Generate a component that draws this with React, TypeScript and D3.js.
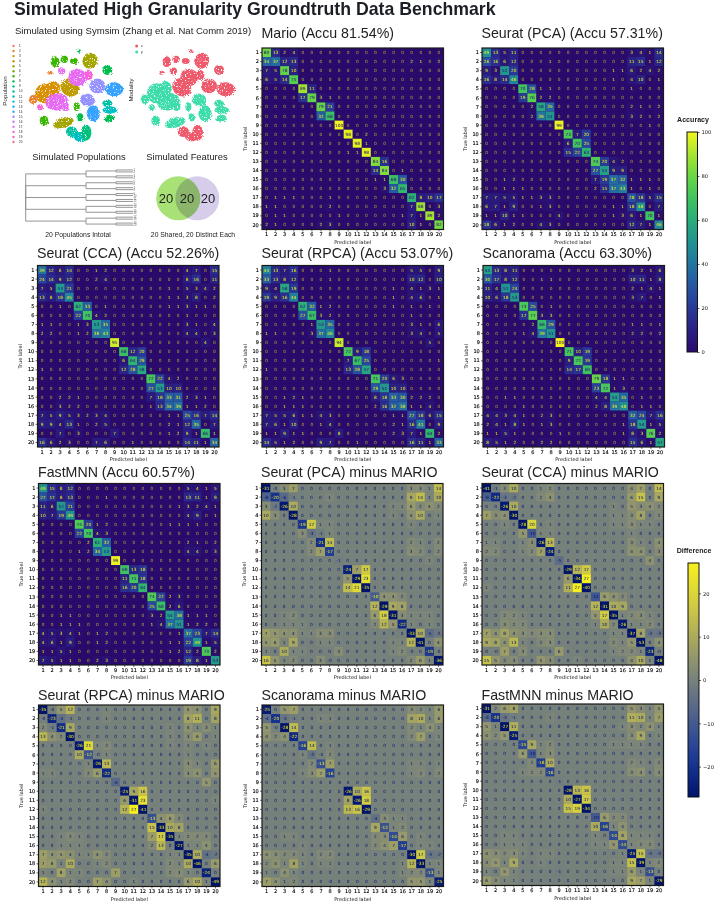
import { useEffect, useRef } from "react";
import * as d3 from "d3";

const labels = d3.range(1, 21).map(String);

// ---------- ACCURACY MATRICES ----------
const mario = [
  [80,13,2,4,0,0,0,0,0,0,0,0,0,0,0,0,0,0,0,0],
  [34,37,12,13,0,0,0,0,0,0,0,0,0,0,0,0,2,1,0,2],
  [7,5,78,10,0,0,0,0,0,0,0,0,0,0,0,0,0,0,0,0],
  [6,5,14,75,0,0,0,0,0,0,0,0,0,0,0,0,0,0,0,0],
  [0,0,0,0,89,11,0,0,0,0,0,0,0,0,0,0,0,0,0,0],
  [0,0,0,0,17,79,3,1,0,0,0,0,0,0,0,0,0,0,0,0],
  [0,0,0,0,0,0,79,21,0,0,0,0,0,0,0,0,0,0,0,0],
  [0,0,0,0,0,0,32,68,0,0,0,0,0,0,0,0,0,0,0,0],
  [0,0,0,0,0,0,0,0,100,0,0,0,0,0,0,0,0,0,0,0],
  [0,0,0,0,0,0,0,0,0,98,0,2,0,0,0,0,0,0,0,0],
  [0,0,0,0,0,0,0,0,0,0,98,1,0,0,0,0,0,0,0,0],
  [0,0,0,0,0,0,0,0,0,1,1,98,0,0,0,0,0,0,0,0],
  [0,0,0,0,0,0,0,0,0,0,0,0,84,16,0,0,0,0,0,0],
  [0,0,0,0,0,0,0,0,0,0,0,0,14,84,0,1,0,0,0,0],
  [0,0,0,0,0,0,0,0,0,0,0,0,1,1,68,30,0,0,0,0],
  [0,0,0,0,0,0,0,0,0,0,0,0,0,3,32,65,0,0,0,0],
  [0,1,1,1,0,0,0,1,0,0,0,0,0,0,0,0,62,8,10,17],
  [1,1,0,0,0,0,0,2,0,0,0,0,0,0,0,0,7,88,0,3],
  [0,1,1,0,0,0,0,0,1,0,0,0,0,0,0,1,7,1,89,2],
  [2,1,0,0,0,0,2,3,0,0,0,0,0,0,0,0,10,1,0,82],
];
const seuratPca = [
  [49,13,5,11,0,0,0,0,0,0,0,0,0,0,0,0,3,4,1,14],
  [26,16,6,12,0,0,0,1,0,0,0,0,0,0,0,0,11,15,1,12],
  [9,3,52,20,0,0,0,0,0,0,0,0,0,0,1,1,6,2,4,2],
  [16,8,14,46,0,0,0,0,0,0,0,0,0,0,1,0,4,10,0,1],
  [0,0,0,0,70,28,1,1,0,0,0,0,0,0,0,0,1,0,0,0],
  [0,0,0,0,19,76,2,2,0,0,0,0,0,0,0,0,0,0,0,0],
  [0,0,0,0,0,2,58,35,0,0,0,0,0,0,0,0,2,1,0,2],
  [0,0,0,0,0,2,39,51,0,0,0,0,0,0,0,0,3,2,0,2],
  [0,0,0,0,0,0,0,0,99,0,0,0,0,0,0,0,0,0,1,0],
  [0,0,0,0,0,0,0,0,0,73,7,20,0,0,0,0,0,0,0,0],
  [0,0,0,0,0,0,0,0,0,6,70,25,0,0,0,0,0,0,0,0],
  [0,0,0,0,0,0,0,0,0,15,22,63,0,0,0,0,0,0,0,0],
  [0,0,0,0,0,0,0,0,0,0,0,0,74,20,4,2,0,0,0,0],
  [0,0,0,0,0,0,0,0,0,0,0,0,27,55,9,9,0,0,0,0],
  [0,0,1,2,0,0,0,0,0,0,0,0,7,19,37,32,1,1,1,0],
  [0,0,1,1,1,0,0,0,0,0,0,0,2,15,37,43,1,0,1,0],
  [7,7,5,5,1,1,3,3,0,0,0,0,0,0,0,0,28,18,5,15],
  [6,7,1,9,0,0,1,3,0,0,0,0,0,0,1,1,18,48,0,7],
  [1,1,10,1,1,0,0,0,4,0,0,0,0,0,1,3,6,1,70,1],
  [18,6,1,2,0,0,4,3,0,0,0,0,0,0,0,0,12,7,1,46],
];
const seuratCca = [
  [39,12,6,14,0,0,1,2,0,0,0,0,0,0,0,0,4,7,0,15],
  [24,14,9,12,0,0,2,4,0,0,0,0,0,0,0,0,8,16,0,11],
  [7,5,53,21,0,0,0,0,0,0,0,0,0,0,1,0,5,3,4,2],
  [13,8,18,45,0,0,0,0,0,0,0,0,0,0,1,1,3,8,0,2],
  [0,0,1,0,62,33,0,1,0,0,0,0,0,0,1,1,3,1,1,0],
  [0,0,0,0,22,70,4,2,0,0,0,0,0,0,0,0,1,0,0,0],
  [1,1,0,0,1,3,53,35,0,0,0,0,0,0,0,0,3,1,0,4],
  [2,2,0,0,1,2,38,43,0,0,0,0,0,0,0,0,4,4,0,3],
  [0,0,0,0,0,0,0,0,95,0,0,0,0,0,0,0,0,0,4,0],
  [0,0,0,0,0,0,0,0,0,68,12,20,0,0,0,0,0,0,0,0],
  [0,0,0,0,0,0,0,0,0,6,64,29,0,0,0,0,0,0,0,0],
  [1,0,0,0,0,0,0,0,0,12,28,58,0,0,0,0,0,0,0,0],
  [0,0,0,0,0,0,0,0,0,0,0,0,72,22,4,2,0,0,0,0],
  [0,0,0,0,0,0,0,0,0,0,0,0,27,53,10,10,0,0,0,0],
  [0,0,2,2,1,0,0,0,0,0,0,0,7,18,33,31,2,3,1,0],
  [0,0,3,2,2,0,0,0,0,0,0,0,1,13,34,39,1,1,2,0],
  [7,5,9,5,3,2,3,4,0,0,0,0,0,0,1,1,25,16,7,14],
  [9,9,4,13,1,0,2,5,0,0,0,0,0,0,2,1,12,35,0,7],
  [0,0,7,0,3,0,0,0,7,0,0,0,0,0,1,2,9,1,66,1],
  [16,6,2,3,0,0,7,6,0,0,1,0,0,0,0,0,14,11,1,34],
];
const seuratRpca = [
  [44,13,7,16,0,0,0,1,0,0,0,0,0,0,0,0,5,5,0,9],
  [33,13,8,12,0,0,0,1,0,0,0,0,0,0,0,0,10,12,0,10],
  [9,4,58,19,0,0,0,0,0,0,0,0,0,0,1,0,4,1,3,1],
  [19,9,16,44,0,0,0,0,0,0,0,0,0,0,1,0,4,6,0,1],
  [0,0,0,0,62,32,1,2,0,0,0,0,0,0,1,0,1,0,1,0],
  [0,0,0,0,27,67,3,2,0,0,0,0,0,0,0,0,1,0,0,0],
  [0,0,0,0,0,1,53,35,0,0,0,0,0,0,0,0,3,1,0,6],
  [1,1,0,0,0,3,37,46,0,0,0,0,0,0,0,0,3,4,0,5],
  [0,0,0,0,0,0,0,0,94,0,0,0,0,0,0,0,0,0,5,0],
  [0,0,0,0,0,0,0,0,0,72,9,18,0,0,0,0,0,0,0,0],
  [0,0,0,0,0,0,0,0,0,7,67,25,0,0,0,0,0,0,0,1],
  [1,0,0,0,0,0,0,0,0,13,28,57,0,0,0,0,0,0,0,0],
  [0,0,0,0,0,0,0,0,0,0,0,0,71,20,6,3,0,0,0,0],
  [0,0,0,0,0,0,0,0,0,0,0,0,29,51,10,10,0,0,0,0],
  [0,0,1,2,1,0,0,0,0,0,0,0,8,18,33,30,2,2,2,0],
  [0,0,1,1,1,0,0,0,0,0,0,0,2,16,32,38,1,1,4,0],
  [7,5,5,6,1,1,4,3,0,0,0,0,0,0,1,1,27,18,6,15],
  [7,6,1,10,0,0,1,4,0,0,0,0,0,0,2,1,16,41,0,9],
  [1,1,9,1,1,0,0,0,8,0,0,0,0,0,2,3,7,1,64,2],
  [14,5,1,2,0,0,9,7,0,0,1,0,0,0,0,0,16,11,1,33],
];
const scanorama = [
  [55,13,8,11,0,0,0,0,0,0,0,0,0,0,0,0,3,2,1,6],
  [30,17,8,12,0,0,1,1,0,0,0,0,0,0,0,0,10,11,1,8],
  [11,4,51,24,0,0,0,0,0,0,0,0,0,0,0,0,2,1,4,1],
  [10,6,18,53,0,0,0,0,0,0,0,0,0,0,0,0,3,7,0,1],
  [0,0,0,0,73,25,0,1,0,0,0,0,0,0,0,0,0,0,0,0],
  [0,0,0,0,17,77,3,3,0,0,0,0,0,0,0,0,0,0,0,0],
  [0,0,0,0,0,2,66,29,0,0,0,0,0,0,0,0,1,1,0,1],
  [0,0,0,0,1,4,39,51,0,0,0,0,0,0,0,0,2,2,0,2],
  [0,0,0,0,0,0,0,0,100,0,0,0,0,0,0,0,0,0,0,0],
  [0,0,0,0,0,0,0,0,0,71,10,19,0,0,0,0,0,0,0,0],
  [0,0,0,0,0,0,0,0,0,9,72,19,0,0,0,0,0,0,0,0],
  [0,0,0,0,0,0,0,0,0,14,17,69,0,0,0,0,0,0,0,0],
  [0,0,0,0,0,0,0,0,0,0,0,0,79,18,1,1,0,0,0,0],
  [0,0,0,0,0,0,0,0,0,0,0,0,23,72,1,3,0,0,0,0],
  [0,0,1,1,0,0,0,0,0,0,0,0,4,4,54,35,0,1,0,0],
  [0,0,0,0,1,0,0,0,0,0,0,0,2,8,39,48,0,1,1,0],
  [4,4,3,4,1,0,2,3,0,0,0,0,0,0,0,0,32,24,7,16],
  [2,4,1,8,1,0,1,3,0,0,0,0,0,0,0,1,18,54,1,5],
  [1,1,5,1,0,0,0,0,1,0,0,0,0,0,0,1,8,3,76,2],
  [8,5,1,2,0,0,2,2,0,0,0,0,0,0,0,0,15,6,1,57],
];
const fastMnn = [
  [49,15,8,12,0,0,0,0,0,0,0,0,0,0,0,0,5,4,1,5],
  [27,17,8,13,0,0,0,1,0,0,0,0,0,0,0,0,13,11,1,9],
  [11,6,52,21,0,0,0,0,0,0,0,0,0,0,0,1,3,2,4,1],
  [10,7,19,49,0,0,0,0,0,0,0,0,0,0,0,0,4,9,0,1],
  [0,0,0,0,74,20,1,2,0,0,0,0,0,0,1,1,1,1,0,0],
  [0,0,0,0,22,70,4,3,0,0,0,0,0,0,0,0,0,0,0,0],
  [0,0,0,0,0,2,61,32,0,0,0,0,0,0,0,0,2,1,0,2],
  [0,0,0,0,1,2,34,53,0,0,0,0,0,0,0,0,4,4,0,3],
  [0,0,0,0,0,0,0,0,99,0,0,0,0,0,0,0,0,0,0,0],
  [0,0,0,0,0,0,0,0,0,69,13,18,0,0,0,0,0,0,0,0],
  [0,0,0,0,0,0,0,0,0,11,71,18,0,0,0,0,0,0,0,0],
  [0,0,0,0,0,0,0,0,0,16,20,64,0,0,0,0,0,0,0,0],
  [0,0,0,0,0,0,0,0,0,0,0,0,74,22,2,3,0,0,0,0],
  [0,0,0,0,0,0,0,0,0,0,0,0,25,68,2,6,0,0,0,0],
  [0,0,1,1,0,0,0,0,0,0,0,0,3,2,54,38,1,1,1,0],
  [0,0,1,1,1,0,0,0,0,0,0,0,1,4,37,51,1,2,2,0],
  [4,5,3,4,1,0,1,2,0,0,0,0,0,0,0,1,37,23,7,14],
  [4,6,1,9,0,0,1,2,0,0,0,0,0,0,1,1,22,49,1,5],
  [1,1,5,1,0,0,0,0,0,0,0,0,0,0,1,2,12,2,73,2],
  [7,5,1,1,0,0,2,3,0,0,0,0,0,0,0,0,19,8,1,53],
];

// ---------- DIFFERENCE MATRICES ----------
const pcaMinus = [
  [-31,-0,3,7,0,0,0,0,0,0,0,0,0,0,0,0,3,3,1,14],
  [-8,-20,-6,-1,0,0,0,1,0,0,0,0,0,0,0,0,9,14,1,10],
  [3,-2,-26,10,0,0,0,0,0,0,0,0,0,0,1,1,6,2,4,2],
  [10,3,0,-28,0,0,0,0,0,0,0,0,0,0,1,0,4,10,0,1],
  [0,0,0,0,-19,17,1,1,0,0,0,0,0,0,0,0,1,0,0,0],
  [0,0,0,0,3,-3,-1,1,0,0,0,0,0,0,0,0,0,0,0,0],
  [0,0,0,0,0,2,-21,14,0,0,0,0,0,0,0,0,2,1,0,2],
  [0,0,0,0,0,2,7,-17,0,0,0,0,0,0,0,0,3,2,0,2],
  [0,0,0,0,0,0,0,0,-1,0,0,0,0,0,0,0,0,0,1,0],
  [0,0,0,0,0,0,0,0,0,-24,7,17,0,0,0,0,0,0,0,0],
  [0,0,0,0,0,0,0,0,0,5,-29,23,0,0,0,0,0,0,0,0],
  [0,0,0,0,0,0,0,0,0,14,21,-35,0,0,0,0,0,0,0,0],
  [0,0,0,0,0,0,0,0,0,0,0,0,-10,4,4,2,0,0,0,0],
  [0,0,0,0,0,0,0,0,0,0,0,0,12,-29,9,8,0,0,0,0],
  [0,0,1,2,0,0,0,0,0,0,0,0,6,18,-31,3,1,1,1,0],
  [0,0,1,1,1,0,0,0,0,0,0,0,2,12,5,-22,1,0,1,0],
  [7,5,4,4,1,1,3,3,0,0,0,0,0,0,0,0,-33,10,-5,-2],
  [5,6,1,9,0,0,1,1,0,0,0,0,0,0,1,1,12,-41,0,4],
  [1,0,10,1,1,0,0,0,3,0,0,0,0,0,1,2,-0,0,-19,-0],
  [16,5,1,2,0,0,3,-0,0,0,0,0,0,0,0,0,2,6,1,-36],
];
const ccaMinus = [
  [-41,-1,3,10,0,0,1,2,0,0,0,0,0,0,0,0,4,7,0,14],
  [-9,-22,-3,-2,0,0,2,4,0,0,0,0,0,0,0,0,6,15,0,9],
  [0,0,-26,10,0,0,0,0,0,0,0,0,0,0,1,0,5,3,4,2],
  [7,3,4,-30,0,0,0,0,0,0,0,0,0,0,1,1,3,8,0,2],
  [0,0,1,0,-28,20,0,1,0,0,0,0,0,0,1,1,3,1,1,0],
  [0,0,0,0,5,-10,1,1,0,0,0,0,0,0,0,0,1,0,0,0],
  [1,1,0,0,1,3,-26,13,0,0,0,0,0,0,0,0,3,1,0,4],
  [2,2,0,0,1,2,7,-24,0,0,0,0,0,0,0,0,4,4,0,3],
  [0,0,0,0,0,0,0,0,-5,0,0,0,0,0,0,0,0,0,4,0],
  [0,0,0,0,0,0,0,0,0,-29,12,17,0,0,0,0,0,0,0,0],
  [0,0,0,0,0,0,0,0,0,6,-34,27,0,0,0,0,0,0,0,0],
  [1,0,0,0,0,0,0,0,0,11,27,-40,0,0,0,0,0,0,0,0],
  [0,0,0,0,0,0,0,0,0,0,0,0,-11,6,4,2,0,0,0,0],
  [0,0,0,0,0,0,0,0,0,0,0,0,12,-31,10,9,0,0,0,0],
  [0,0,2,2,1,0,0,0,0,0,0,0,5,17,-35,1,2,3,1,0],
  [0,0,3,2,2,0,0,0,0,0,0,0,1,10,2,-26,1,1,2,0],
  [7,4,8,4,3,2,3,3,0,0,0,0,0,0,1,1,-37,8,-3,-3],
  [9,8,4,13,1,0,2,3,0,0,0,0,0,0,2,1,5,-53,0,4],
  [0,-0,7,0,3,0,0,0,6,0,0,0,0,0,1,2,2,1,-23,-0],
  [15,5,2,3,0,0,5,3,0,0,1,0,0,0,0,0,4,10,1,-48],
];
const rpcaMinus = [
  [-35,-0,5,12,0,0,0,1,0,0,0,0,0,0,0,0,5,4,0,9],
  [-0,-23,-4,-1,0,0,0,1,0,0,0,0,0,0,0,0,8,11,0,8],
  [2,-1,-21,9,0,0,0,0,0,0,0,0,0,0,1,0,4,1,3,1],
  [13,4,2,-30,0,0,0,0,0,0,0,0,0,0,1,0,3,6,0,1],
  [0,0,0,0,-26,21,1,2,0,0,0,0,0,0,1,0,1,0,1,0],
  [0,0,0,0,10,-12,-0,1,0,0,0,0,0,0,0,0,1,0,0,0],
  [0,0,0,0,0,1,-26,13,0,0,0,0,0,0,0,0,3,1,0,6],
  [1,1,0,0,0,2,6,-22,0,0,0,0,0,0,0,0,3,4,0,5],
  [0,0,0,0,0,0,0,0,-6,0,0,0,0,0,0,0,0,0,5,0],
  [0,0,0,0,0,0,0,0,0,-25,9,16,0,0,0,0,0,0,0,0],
  [0,0,0,0,0,0,0,0,0,6,-31,23,0,0,0,0,0,0,0,1],
  [1,0,0,0,0,0,0,0,0,12,27,-41,0,0,0,0,0,0,0,0],
  [0,0,0,0,0,0,0,0,0,0,0,0,-13,4,6,2,0,0,0,0],
  [0,0,0,0,0,0,0,0,0,0,0,0,15,-33,10,8,0,0,0,0],
  [0,0,1,2,1,0,0,0,0,0,0,0,7,17,-35,1,2,2,2,0],
  [0,0,1,1,1,0,0,0,0,0,0,0,2,13,0,-27,1,1,4,0],
  [7,4,5,4,1,1,4,2,0,0,0,0,0,0,1,1,-35,10,-4,-2],
  [7,6,1,10,0,0,1,2,0,0,0,0,0,0,2,1,10,-46,0,6],
  [1,0,8,1,1,0,0,0,7,0,0,0,0,0,2,3,1,0,-24,0],
  [12,4,1,2,0,0,7,4,0,0,1,0,0,0,0,0,6,10,1,-49],
];
const scanoramaMinus = [
  [-25,0,5,7,0,0,0,0,0,0,0,0,0,0,0,0,3,2,1,6],
  [-4,-20,-3,-1,0,0,1,1,0,0,0,0,0,0,0,0,8,10,1,6],
  [5,-0,-28,14,0,0,0,0,0,0,0,0,0,0,0,0,2,1,4,1],
  [4,2,4,-22,0,0,0,0,0,0,0,0,0,0,0,0,2,7,0,1],
  [0,0,0,0,-16,14,0,1,0,0,0,0,0,0,0,0,0,0,0,0],
  [0,0,0,0,1,-3,-0,2,0,0,0,0,0,0,0,0,0,0,0,0],
  [0,0,0,0,0,2,-13,7,0,0,0,0,0,0,0,0,1,1,0,1],
  [0,0,0,0,1,3,7,-16,0,0,0,0,0,0,0,0,1,2,0,2],
  [0,0,0,0,0,0,0,0,-0,0,0,0,0,0,0,0,0,0,0,0],
  [0,0,0,0,0,0,0,0,0,-26,10,16,0,0,0,0,0,0,0,0],
  [0,0,0,0,0,0,0,0,0,8,-26,18,0,0,0,0,0,0,0,0],
  [0,0,0,0,0,0,0,0,0,13,16,-29,0,0,0,0,0,0,0,0],
  [0,0,0,0,0,0,0,0,0,0,0,0,-4,3,1,1,0,0,0,0],
  [0,0,0,0,0,0,0,0,0,0,0,0,9,-12,1,2,0,0,0,0],
  [0,0,1,1,0,0,0,0,0,0,0,0,2,3,-14,6,0,1,0,0],
  [0,0,0,0,1,0,0,0,0,0,0,0,2,4,7,-17,0,1,1,0],
  [4,3,2,2,1,0,2,2,0,0,0,0,0,0,0,0,-30,17,-3,-2],
  [2,4,1,8,1,0,1,1,0,0,0,0,0,0,0,1,12,-33,1,1],
  [1,0,4,1,0,0,0,0,0,0,0,0,0,0,0,1,2,2,-13,1],
  [7,4,1,2,0,0,0,-0,0,0,0,0,0,0,0,0,5,5,1,-25],
];
const fastMnnMinus = [
  [-31,2,6,8,0,0,0,0,0,0,0,0,0,0,0,0,5,3,1,5],
  [-6,-20,-3,-1,0,0,0,1,0,0,0,0,0,0,0,0,11,10,1,7],
  [5,1,-27,11,0,0,0,0,0,0,0,0,0,0,0,1,3,2,4,1],
  [4,2,5,-25,0,0,0,0,0,0,0,0,0,0,0,0,3,9,0,1],
  [0,0,0,0,-15,9,1,2,0,0,0,0,0,0,1,1,1,1,0,0],
  [0,0,0,0,6,-10,1,3,0,0,0,0,0,0,0,0,0,0,0,0],
  [0,0,0,0,0,2,-18,10,0,0,0,0,0,0,0,0,2,1,0,2],
  [0,0,0,0,1,2,2,-16,0,0,0,0,0,0,0,0,3,4,0,3],
  [0,0,0,0,0,0,0,0,-1,0,0,0,0,0,0,0,0,0,0,0],
  [0,0,0,0,0,0,0,0,0,-28,13,16,0,0,0,0,0,0,0,0],
  [0,0,0,0,0,0,0,0,0,10,-27,17,0,0,0,0,0,0,0,0],
  [0,0,0,0,0,0,0,0,0,15,19,-34,0,0,0,0,0,0,0,0],
  [0,0,0,0,0,0,0,0,0,0,0,0,-10,6,2,2,0,0,0,0],
  [0,0,0,0,0,0,0,0,0,0,0,0,10,-16,1,4,0,0,0,0],
  [0,0,1,1,0,0,0,0,0,0,0,0,1,0,-14,8,1,1,1,0],
  [0,0,1,1,1,0,0,0,0,0,0,0,1,1,5,-14,1,2,2,0],
  [4,3,2,3,1,0,1,1,0,0,0,0,0,0,0,1,-25,15,-3,-3],
  [3,5,1,9,0,0,1,0,0,0,0,0,0,0,1,1,15,-39,1,2],
  [1,0,5,1,0,0,0,0,-1,0,0,0,0,0,1,1,6,1,-13,0],
  [6,3,1,1,0,0,0,0,0,0,0,0,0,0,0,0,9,7,1,-29],
];

// ---------- TSNE BLOBS (in tsne-plot units) ----------
const clusterX = [165,193,222,237,270,322,150,185,135,160,210,232,265,292,342,100,170,120,195,262,280,230,240,322,330,328,132,190,215,240,258];
const clusterY = [185,178,183,153,182,210,218,213,280,265,262,232,225,258,268,298,305,322,320,300,340,320,352,310,330,355,362,368,395,410,398];
const clusterRx = [13,11,12,6,22,15,8,11,30,20,30,27,13,24,28,13,34,9,11,22,20,9,10,15,22,17,13,32,17,20,16];
const clusterRy = [16,11,9,5,24,15,6,10,30,22,26,26,15,22,21,14,26,9,13,19,24,13,12,11,11,10,15,15,16,14,24];
const clusterTilt = [0,0,0,0,30,0,0,-20,0,0,35,0,0,-10,0,30,-10,0,0,10,0,0,0,0,0,-10,0,-15,0,0,0];
const clusterPop = [7,7,7,8,5,8,2,17,3,3,4,17,18,15,14,2,17,18,17,15,14,7,8,10,11,8,7,5,10,11,9];
const clusterModality = ["x","x","x","x","x","x","x","x","y","y","x","x","x","x","x","y","y","y","y","y","y","y","y","y","y","y","y","y","x","x","x"];

const popColors = ["#F8766D","#EA8331","#D89000","#C09B00","#A3A500","#7CAE00","#39B600","#00BB4E","#00BF7D","#00C1A3","#00BFC4","#00BAE0","#00B0F6","#35A2FF","#9590FF","#C77CFF","#E76BF3","#FA62DB","#FF62BC","#FF6A98"];
const modalityColors: Record<string, string> = { x: "#EE5A6C", y: "#3EDCAB" };

// 5 groups of 2 pairs
const treeGroups = [[[1,2],[3,4]],[[5,6],[7,8]],[[9,10],[11,12]],[[13,14],[15,16]],[[17,18],[19,20]]];

const accuTicks = [0,20,40,60,80,100];
const diffTicks = [-20,-10,0,10,20];

// viridis and cividis as they came out in the printed figure, more saturated than the stock ones
const accuRamp = ["#2a0b6c","#2b2f94","#2560a8","#1e9496","#2dbf68","#74dd3a","#f2f51e"];
const diffRamp = ["#00146c","#1a3a9e","#4a5f8c","#76807f","#a8a65e","#d4cf42","#f8f01e"];

const panels = [
  { title: "Mario (Accu 81.54%)", x: 262, y: 48, titleY: 38, m: mario, kind: "accu" },
  { title: "Seurat (PCA) (Accu 57.31%)", x: 482, y: 48, titleY: 38, m: seuratPca, kind: "accu" },
  { title: "Seurat (CCA) (Accu 52.26%)", x: 37.5, y: 265.5, titleY: 258, m: seuratCca, kind: "accu" },
  { title: "Seurat (RPCA) (Accu 53.07%)", x: 262, y: 265.5, titleY: 258, m: seuratRpca, kind: "accu" },
  { title: "Scanorama (Accu 63.30%)", x: 483, y: 265.5, titleY: 258, m: scanorama, kind: "accu" },
  { title: "FastMNN (Accu 60.57%)", x: 38.5, y: 483.5, titleY: 477, m: fastMnn, kind: "accu" },
  { title: "Seurat (PCA) minus MARIO", x: 261.5, y: 483.5, titleY: 477, m: pcaMinus, kind: "diff" },
  { title: "Seurat (CCA) minus MARIO", x: 482, y: 483.5, titleY: 477, m: ccaMinus, kind: "diff" },
  { title: "Seurat (RPCA) minus MARIO", x: 38.5, y: 705, titleY: 700, m: rpcaMinus, kind: "diff" },
  { title: "Scanorama minus MARIO", x: 262, y: 705, titleY: 700, m: scanoramaMinus, kind: "diff" },
  { title: "FastMNN minus MARIO", x: 482, y: 704, titleY: 700, m: fastMnnMinus, kind: "diff" },
];

const SANS = "'Liberation Sans', Arial, sans-serif";
const MPL = "'DejaVu Sans', sans-serif";
const SIZE = 181.5;

const accuInterp = d3.interpolateRgbBasis(accuRamp);
const diffInterp = d3.interpolateRgbBasis(diffRamp);
const accuColor = d3.scaleSequential(accuInterp).domain([0, 100]);
const diffColor = d3.scaleSequential(diffInterp).domain([-27, 27]).clamp(true);

function cellLabel(v: number) {
  return Object.is(v, -0) ? "-0" : String(v);
}

function Matrix({ title, x, y, titleY, m, kind }: any) {
  const axisX = useRef<SVGGElement>(null);
  const axisY = useRef<SVGGElement>(null);
  const band = d3.scaleBand<string>().domain(labels).range([0, SIZE]);
  const color = kind === "accu" ? accuColor : diffColor;
  const flat = m.flat();
  const thresh = ((d3.max(flat) as number) + (d3.min(flat) as number)) / 2;

  useEffect(() => {
    const style = (g: any) => {
      g.select(".domain").remove();
      g.attr("font-size", 5).attr("font-family", MPL);
      g.selectAll("text").attr("fill", "#000").attr("stroke", "#000").attr("stroke-width", 0.12);
      g.selectAll("line").attr("stroke", "#111").attr("stroke-width", 0.6);
    };
    d3.select(axisX.current).call(d3.axisBottom(band).tickSize(2).tickPadding(1.2) as any).call(style);
    d3.select(axisY.current).call(d3.axisLeft(band).tickSize(2).tickPadding(1.2) as any).call(style);
  }, []);

  return (
    <g transform={`translate(${x},${y})`}>
      <text x={-0.5} y={titleY - y} fontFamily={SANS} fontSize={14.2} fill="#222">{title}</text>
      {/* base fill so the fractional cell edges don't let white through */}
      <rect width={SIZE} height={SIZE} fill={color(0)} />
      {m.map((row: number[], i: number) => row.map((v, j) => (
        <g key={`${i}-${j}`}>
          <rect x={band(labels[j])} y={band(labels[i])} width={band.bandwidth()} height={band.bandwidth()} fill={color(v)} />
          <text
            x={(band(labels[j]) as number) + band.bandwidth() / 2}
            y={(band(labels[i]) as number) + band.bandwidth() / 2 + 1.5}
            textAnchor="middle"
            fontFamily={MPL}
            fontSize={4.3}
            fillOpacity={kind === "accu" && v === 0 ? 0.65 : 1}
            fill={v < thresh ? color(kind === "accu" ? 100 : 27) : color(kind === "accu" ? 0 : -27)}
          >
            {cellLabel(v)}
          </text>
        </g>
      )))}
      <rect width={SIZE} height={SIZE} fill="none" stroke="#1a1a1a" strokeWidth={1.2} />
      <g ref={axisX} transform={`translate(0,${SIZE})`} />
      <g ref={axisY} />
      <text x={SIZE / 2} y={SIZE + 14} textAnchor="middle" fontFamily={MPL} fontSize={5} fill="#111">Predicted label</text>
      <text transform={`translate(-15.5,${SIZE / 2}) rotate(-90)`} textAnchor="middle" fontFamily={MPL} fontSize={5} fill="#111">True label</text>
    </g>
  );
}

function ColorBar({ id, x, y, w, h, domain, ticks, interp, label, labelX, labelY }: any) {
  const axis = useRef<SVGGElement>(null);
  const scale = d3.scaleLinear().domain(domain).range([h, 0]);
  const stops = d3.range(0, 1.0001, 0.05);

  useEffect(() => {
    const g = d3.select(axis.current);
    g.call(d3.axisRight(scale).tickValues(ticks).tickSize(2).tickPadding(2).tickFormat((d: any) => String(d).replace("-", "\u2212")) as any);
    g.select(".domain").remove();
    g.attr("font-size", 5.2).attr("font-family", MPL);
    g.selectAll("text").attr("fill", "#111");
    g.selectAll("line").attr("stroke-width", 0.6);
  }, []);

  return (
    <g transform={`translate(${x},${y})`}>
      <defs>
        <linearGradient id={id} x1="0" y1="1" x2="0" y2="0">
          {stops.map(t => <stop key={t} offset={t} stopColor={interp(t)} />)}
        </linearGradient>
      </defs>
      <rect width={w} height={h} fill={`url(#${id})`} stroke="#111" strokeWidth={1} />
      <g ref={axis} transform={`translate(${w},0)`} />
      <text x={labelX - x} y={labelY - y} textAnchor="middle" fontFamily={SANS} fontWeight="bold" fontSize={7.1} fill="#222">{label}</text>
    </g>
  );
}

function Scatter({ offset, colorOf }: { offset: number; colorOf: (i: number) => string }) {
  const sx = d3.scaleLinear().domain([0, 720]).range([offset, offset + 240]);
  const sy = d3.scaleLinear().domain([0, 720]).range([0, 240]);
  return (
    <g filter="url(#speckle)">
      {clusterX.map((cx, i) => (
        <ellipse
          key={i}
          rx={sx(clusterRx[i]) - sx(0)}
          ry={sy(clusterRy[i])}
          transform={`translate(${sx(cx)},${sy(clusterY[i])}) rotate(${clusterTilt[i]})`}
          fill={colorOf(i)}
        />
      ))}
    </g>
  );
}

function Dendrogram() {
  const root = d3.hierarchy<any>({ children: treeGroups.map(g => ({ children: g.map(p => ({ children: p.map(n => ({ name: n })) })) })) });
  d3.cluster<any>().size([59, 1])(root);
  const depthX = d3.scaleOrdinal<number, number>().domain([0, 1, 2, 3]).range([25.7, 86, 116, 133]);
  const links = root.links();
  return (
    <g transform="translate(0,168)">
      {links.map((l: any, i: number) => (
        <path
          key={i}
          fill="none"
          stroke="#8a8a8a"
          strokeWidth={0.9}
          d={`M${depthX(l.source.depth)},${l.source.x}V${l.target.x}H${depthX(l.target.depth)}`}
        />
      ))}
      {root.leaves().map((n: any) => (
        <text key={n.data.name} x={133.5} y={n.x + 1} fontFamily={SANS} fontSize={2.6} fill="#555">{n.data.name}</text>
      ))}
    </g>
  );
}

export default function App() {
  return (
    <svg width={715} height={902} style={{ position: "absolute", left: 0, top: 0, background: "#fff" }}>
      <defs>
        <filter id="speckle" x="-5%" y="-5%" width="110%" height="110%">
          <feTurbulence type="fractalNoise" baseFrequency="0.75" numOctaves={2} seed={4} result="n" />
          <feDisplacementMap in="SourceGraphic" in2="n" scale={3.5} result="d" />
          <feColorMatrix in="n" type="matrix" values="0 0 0 0 0  0 0 0 0 0  0 0 0 0 0  0 0 0 -7 5.2" result="mask" />
          <feComposite in="d" in2="mask" operator="in" />
        </filter>
      </defs>

      <text x={14} y={14.5} fontFamily={SANS} fontWeight="bold" fontSize={17.7} fill="#1c1f26">Simulated High Granularity Groundtruth Data Benchmark</text>
      <text x={15} y={33.5} fontFamily={SANS} fontSize={9.55} fill="#222">Simulated using Symsim (Zhang et al. Nat Comm 2019)</text>

      <Scatter offset={0} colorOf={i => popColors[clusterPop[i] - 1]} />
      <Scatter offset={111.7} colorOf={i => modalityColors[clusterModality[i]]} />

      {labels.map((l, i) => {
        const ly = d3.scaleLinear().domain([0, 19]).range([46, 142]);
        return (
          <g key={l}>
            <circle cx={13.5} cy={ly(i)} r={1.2} fill={popColors[i]} />
            <text x={19} y={ly(i) + 1} fontFamily={SANS} fontSize={3} fill="#222">{l}</text>
          </g>
        );
      })}
      {Object.keys(modalityColors).map((k, i) => (
        <g key={k}>
          <circle cx={136.7} cy={46 + i * 6} r={1.5} fill={modalityColors[k]} />
          <text x={141} y={47 + i * 6} fontFamily={SANS} fontSize={3.4} fill="#222">{k}</text>
        </g>
      ))}
      <text transform="translate(6.5,91) rotate(-90)" textAnchor="middle" fontFamily={SANS} fontSize={6.2} fill="#222">Population</text>
      <text transform="translate(133,90) rotate(-90)" textAnchor="middle" fontFamily={SANS} fontSize={6.2} fill="#222">Modality</text>

      <text x={79} y={160} textAnchor="middle" fontFamily={SANS} fontSize={9.4} fill="#222">Simulated Populations</text>
      <text x={187} y={160} textAnchor="middle" fontFamily={SANS} fontSize={9.4} fill="#222">Simulated Features</text>

      <Dendrogram />

      <circle cx={178.3} cy={198.3} r={22} fill="#a8e276" />
      <circle cx={197.3} cy={198.3} r={22} fill="#d5cdea" style={{ mixBlendMode: "multiply" }} />
      <text x={166} y={203} textAnchor="middle" fontFamily={SANS} fontSize={13} fill="#222">20</text>
      <text x={187} y={203} textAnchor="middle" fontFamily={SANS} fontSize={13} fill="#222">20</text>
      <text x={208} y={203} textAnchor="middle" fontFamily={SANS} fontSize={13} fill="#222">20</text>

      <text x={78} y={237} textAnchor="middle" fontFamily={SANS} fontSize={6.8} fill="#222">20 Populations Intotal</text>
      <text x={193} y={237} textAnchor="middle" fontFamily={SANS} fontSize={6.8} fill="#222">20 Shared, 20 Distinct Each</text>

      {panels.map(p => <Matrix key={p.title} {...p} />)}

      <ColorBar id="accuBar" x={687} y={132} w={10.5} h={220} domain={[0, 100]} ticks={accuTicks} interp={accuInterp} label="Accuracy" labelX={693} labelY={122} />
      <ColorBar id="diffBar" x={688} y={563} w={11} h={234} domain={[-27, 27]} ticks={diffTicks} interp={diffInterp} label="Difference" labelX={694} labelY={553} />
    </svg>
  );
}
